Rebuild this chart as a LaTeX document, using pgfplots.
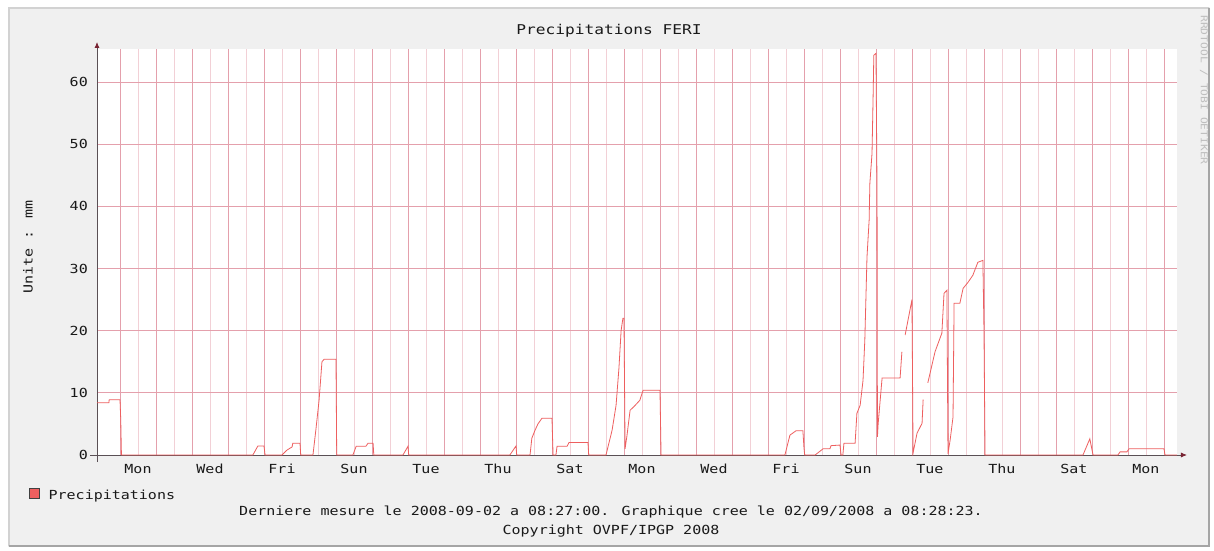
\documentclass[border=0pt]{standalone}
\usepackage{fontspec}
\setmainfont{DejaVu Sans Mono}[FakeStretch=1.2]
\usepackage{pgfplots}
\usepackage{pgfplotstable}
\pgfplotsset{compat=1.18}
\usetikzlibrary{arrows.meta}
\definecolor{rrdbg}{RGB}{240,240,240}
\definecolor{shadea}{RGB}{210,210,210}
\definecolor{shadeb}{RGB}{165,165,165}
\definecolor{gridmaj}{RGB}{228,160,172}
\definecolor{gridmin}{RGB}{242,208,214}
\definecolor{rain}{RGB}{238,95,95}
\definecolor{axiscol}{RGB}{90,80,85}
\definecolor{arrowcol}{RGB}{120,35,50}
\definecolor{txt}{RGB}{25,25,25}
\definecolor{wm}{RGB}{190,190,190}

\pgfplotstableread{
x y
-0.639 8.4
-0.31 8.4
-0.30 8.9
0.0 8.9
0.02 5.8
0.04 0
3.69 0
3.83 1.45
4.0 1.45
4.03 0
4.5 0
4.64 0.8
4.78 1.3
4.80 1.9
5.0 1.9
5.02 0
5.36 0
5.44 4.0
5.53 8.8
5.61 15.0
5.67 15.4
6.0 15.4
6.02 0
6.47 0
6.56 1.4
6.83 1.4
6.89 1.9
7.03 1.9
7.05 0
7.86 0
8.0 1.4
8.02 0
10.83 0
11.0 1.45
11.02 0
11.39 0
11.44 2.7
11.53 4.0
11.61 5.0
11.72 5.9
12.0 5.9
12.03 0
12.11 0
12.14 1.4
12.42 1.4
12.47 2.0
13.0 2.0
13.02 0
13.5 0
13.67 4.0
13.78 8.0
13.86 14.0
13.92 20.0
13.97 22.0
14.0 22.0
14.03 1.0
14.08 3.0
14.17 7.2
14.28 7.8
14.44 8.8
14.53 10.4
15.0 10.4
15.03 0
18.47 0
18.61 3.2
18.78 3.9
18.97 3.9
19.0 1.1
19.02 0
19.31 0
19.53 1.0
19.72 1.0
19.75 1.5
20.0 1.6
20.03 0
20.08 0
20.11 1.9
20.42 1.9
20.47 6.7
20.56 8.0
20.64 12.0
20.69 18.5
20.75 31.8
20.81 37.8
20.83 43.7
20.89 48.5
20.92 57.6
20.94 64.3
21.0 64.6
21.03 42.0
21.04 2.9
21.06 5.0
21.17 12.4
21.67 12.4
21.72 16.6
21.74 nan
21.81 19.3
22.0 25.0
22.03 0.3
22.14 3.5
22.28 5.1
22.31 8.9
22.33 nan
22.44 11.6
22.64 16.6
22.83 19.6
22.89 26.0
22.97 26.5
23.0 0.2
23.06 2.4
23.14 6.1
23.17 24.4
23.33 24.4
23.42 26.8
23.56 27.8
23.69 28.9
23.83 31.0
23.97 31.3
24.0 20.1
24.03 0
26.75 0
26.94 2.6
27.03 0
27.72 0
27.78 0.5
27.97 0.5
28.03 1.0
28.14 1.0
29.0 1.0
29.03 0
29.361 0
}\raindata

\begin{document}
\begin{tikzpicture}[x=1pt,y=1pt]
\useasboundingbox (0,0) rectangle (1214,550);
\fill[white] (0,0) rectangle (1214,550);
\fill[rrdbg] (8,3) rectangle (1210,543);
\draw[shadea, line width=2pt] (9,4) -- (9,542) -- (1209,542);
\draw[shadeb, line width=2pt] (9,4) -- (1209,4) -- (1209,542);
\node[anchor=base, text=txt, font=\fontsize{13.5}{16}\selectfont] at (609,515) {Precipitations FERI};
\node[rotate=-90, text=wm, font=\fontsize{9.4}{11}\selectfont] at (1204,460) {RRDTOOL / TOBI OETIKER};
\node[rotate=90, text=txt, font=\fontsize{12.5}{15}\selectfont] at (28,303) {Unite : mm};
\begin{axis}[
  at={(97pt,95pt)}, anchor=south west,
  scale only axis, width=1080pt, height=406pt,
  xmin=-0.639, xmax=29.361, ymin=0, ymax=65.3,
  axis background/.style={fill=white},
  axis x line*=bottom, axis y line*=left,
  x axis line style={axiscol, line width=0.8pt, shorten <=-7pt, shorten >=-10pt, -{Latex[length=6pt,width=5pt,color=arrowcol]}},
  y axis line style={axiscol, line width=0.8pt, shorten <=-7pt, shorten >=-7pt, -{Latex[length=6pt,width=5pt,color=arrowcol]}},
  tick style={draw=none},
  xtick={0,1,...,29},
  xticklabels={,,,,,,,,,,,,,,,,,,,,,,,,,,,,,,},
  minor xtick={0.5,1.5,...,28.5},
  extra x ticks={0.5,2.5,...,28.5},
  extra x tick labels={Mon,Wed,Fri,Sun,Tue,Thu,Sat,Mon,Wed,Fri,Sun,Tue,Thu,Sat,Mon},
  extra x tick style={grid=none},
  ytick={0,10,...,60},
  xmajorgrids, xminorgrids, ymajorgrids,
  major grid style={gridmaj, line width=0.7pt},
  minor grid style={gridmin, line width=0.7pt},
  /pgf/number format/assume math mode=true,
  xticklabel style={anchor=base, yshift=-18pt, inner sep=0pt, text=txt, font=\fontsize{12.5}{15}\selectfont},
  yticklabel style={anchor=east, inner sep=0pt, xshift=-9pt, text=txt, font=\fontsize{12.5}{15}\selectfont},
  unbounded coords=jump,
  legend style={at={(axis description cs:-0.0633,-0.0973)}, anchor=west, draw=none, fill=none, inner sep=0pt,
    font=\fontsize{12.5}{15}\selectfont, text=txt, nodes={inner sep=0pt},
    /tikz/column 1/.style={column sep=9pt}},
  legend image code/.code={\draw[fill=rain, draw=black!75, line width=0.8pt] (0pt,-2pt) rectangle (10pt,8pt);},
]
\addplot[rain, line width=0.8pt] table[x=x, y=y] {\raindata};
\addlegendentry{Precipitations}
\end{axis}
\node[anchor=base, text=txt, font=\fontsize{12.5}{15}\selectfont] at (611,35) {Derniere mesure le 2008-09-02 a 08:27:00. Graphique cree le 02/09/2008 a 08:28:23.};
\node[anchor=base, text=txt, font=\fontsize{12.5}{15}\selectfont] at (611,16) {Copyright OVPF/IPGP 2008};
\end{tikzpicture}
\end{document}
